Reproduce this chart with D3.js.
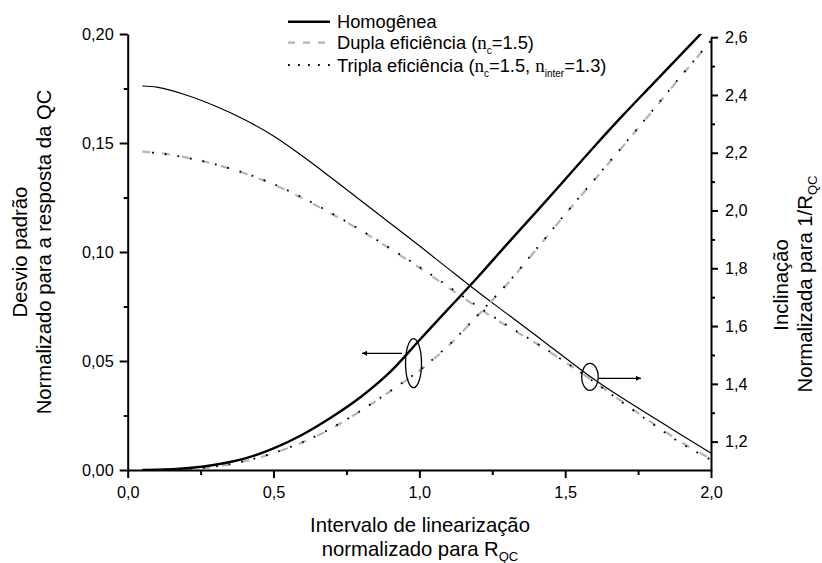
<!DOCTYPE html>
<html>
<head>
<meta charset="utf-8">
<script src="https://cdn.jsdelivr.net/npm/d3@7"></script>
<style>
  html, body { margin: 0; padding: 0; background: #fff; }
  svg { display: block; }
  text { font-family: "Liberation Sans", Arial, sans-serif; fill: #000; }
</style>
</head>
<body>
<svg id="chart" width="822" height="563"></svg>
<script>
// Linearization interval, normalized to R_QC
const xValues = [0.05, 0.1, 0.2, 0.3, 0.4, 0.5, 0.6, 0.7, 0.8, 0.9, 1.0,
                 1.1, 1.2, 1.3, 1.4, 1.5, 1.6, 1.7, 1.8, 1.9, 2.0];

// Standard deviation normalized to the QC response (left axis)
const homogStd  = [0.0000, 0.0001, 0.0008, 0.0024, 0.0052, 0.0099, 0.0163, 0.0243, 0.0336, 0.0450, 0.0595,
                   0.0740, 0.0884, 0.1035, 0.1183, 0.1333, 0.1484, 0.1630, 0.1770, 0.1910, 0.2050];
const duplaStd  = [0.0000, 0.0000, 0.0004, 0.0015, 0.0040, 0.0077, 0.0127, 0.0192, 0.0272, 0.0361, 0.0455,
                   0.0570, 0.0708, 0.0851, 0.1010, 0.1172, 0.1330, 0.1488, 0.1648, 0.1810, 0.1968];
const triplaStd = [0.0000, 0.0000, 0.0004, 0.0016, 0.0041, 0.0078, 0.0128, 0.0193, 0.0273, 0.0362, 0.0457,
                   0.0572, 0.0710, 0.0853, 0.1012, 0.1174, 0.1332, 0.1490, 0.1650, 0.1812, 0.1970];

// Slope normalized to 1/R_QC (right axis)
const homogSlope  = [2.431, 2.427, 2.400, 2.362, 2.315, 2.258, 2.188, 2.112, 2.034, 1.956, 1.878,
                     1.798, 1.719, 1.643, 1.567, 1.490, 1.415, 1.348, 1.285, 1.222, 1.160];
const duplaSlope  = [2.204, 2.200, 2.184, 2.160, 2.129, 2.090, 2.042, 1.988, 1.930, 1.867, 1.802,
                     1.733, 1.664, 1.600, 1.540, 1.475, 1.407, 1.335, 1.264, 1.197, 1.140];
const triplaSlope = [2.203, 2.199, 2.183, 2.160, 2.130, 2.092, 2.044, 1.990, 1.932, 1.869, 1.805,
                     1.737, 1.668, 1.603, 1.542, 1.476, 1.406, 1.333, 1.261, 1.193, 1.137];

// Tick values
const xMajorTicks = [0, 0.5, 1.0, 1.5, 2.0];
const xMinorTicks = [0.25, 0.75, 1.25, 1.75];
const yLeftMajorTicks = [0, 0.05, 0.10, 0.15, 0.20];
const yLeftMinorTicks = [0.025, 0.075, 0.125, 0.175];
const yRightMajorTicks = [1.2, 1.4, 1.6, 1.8, 2.0, 2.2, 2.4, 2.6];
const yRightMinorTicks = [1.3, 1.5, 1.7, 1.9, 2.1, 2.3, 2.5];

const svg = d3.select("#chart");

const plot = { left: 127.7, right: 711, top: 34, bottom: 470 };

const x = d3.scaleLinear().domain([0, 2]).range([plot.left, plot.right]);
const yL = d3.scaleLinear().domain([0, 0.2]).range([plot.bottom, plot.top]);
const yR = d3.scaleLinear().domain([1.1, 2.6]).range([470.5, 37.2]);

const ptFmt = d3.formatLocale({ decimal: ",", thousands: ".", grouping: [3], currency: ["", ""] });
const f2 = ptFmt.format(".2f");
const f1 = ptFmt.format(".1f");

svg.append("defs").append("clipPath").attr("id", "plotClip")
  .append("rect")
  .attr("x", plot.left).attr("y", plot.top)
  .attr("width", plot.right - plot.left).attr("height", plot.bottom - plot.top);

const curves = svg.append("g").attr("clip-path", "url(#plotClip)");

function addLine(values, scale, style) {
  const pts = xValues.map((d, i) => [d, values[i]]);
  const gen = d3.line().x(d => x(d[0])).y(d => scale(d[1])).curve(d3.curveMonotoneX);
  curves.append("path")
    .attr("d", gen(pts))
    .attr("fill", "none")
    .attr("stroke", style.color)
    .attr("stroke-width", style.width)
    .attr("stroke-dasharray", style.dash || null)
    .attr("stroke-dashoffset", style.offset || 0);
}

const styleSolidThick = { color: "#000", width: 2.4 };
const styleSolidThin = { color: "#000", width: 1.2 };
const styleDashed = { color: "#b4b4b4", width: 2.2, dash: "8,12" };
const styleDotted = { color: "#000", width: 1.8, dash: "1.8,11", offset: 3 };

// Slope curves (right axis)
addLine(duplaSlope, yR, styleDashed);
addLine(triplaSlope, yR, styleDotted);
addLine(homogSlope, yR, styleSolidThin);

// Standard deviation curves (left axis)
addLine(duplaStd, yL, styleDashed);
addLine(triplaStd, yL, styleDotted);
addLine(homogStd, yL, styleSolidThick);

// Axes
const tickFont = "16.3px";
function styleAxis(g) {
  g.select(".domain").attr("stroke", "#000").attr("stroke-width", 2);
  g.selectAll(".tick line").attr("stroke", "#000").attr("stroke-width", 2);
  g.selectAll(".tick text").style("font-size", tickFont).attr("fill", "#000")
    .style("font-family", "'Liberation Sans', Arial, sans-serif");
}
function styleMinor(g) {
  g.select(".domain").remove();
  g.selectAll(".tick line").attr("stroke", "#000").attr("stroke-width", 2);
}

// bottom
const gx = svg.append("g").attr("transform", `translate(0,${plot.bottom})`)
  .call(d3.axisBottom(x).tickValues(xMajorTicks).tickFormat(f1).tickSize(8).tickSizeOuter(0).tickPadding(8));
styleAxis(gx);
svg.append("g").attr("transform", `translate(0,${plot.bottom})`)
  .call(d3.axisBottom(x).tickValues(xMinorTicks).tickFormat("").tickSize(5).tickSizeOuter(0))
  .call(styleMinor);

// left
const gyl = svg.append("g").attr("transform", `translate(${plot.left},0)`)
  .call(d3.axisLeft(yL).tickValues(yLeftMajorTicks).tickFormat(f2).tickSize(8).tickSizeOuter(0).tickPadding(6));
styleAxis(gyl);
svg.append("g").attr("transform", `translate(${plot.left},0)`)
  .call(d3.axisLeft(yL).tickValues(yLeftMinorTicks).tickFormat("").tickSize(4).tickSizeOuter(0))
  .call(styleMinor);

// right
const gyr = svg.append("g").attr("transform", `translate(${plot.right},0)`)
  .call(d3.axisRight(yR).tickValues(yRightMajorTicks).tickFormat(f1).tickSize(7).tickSizeOuter(0).tickPadding(7));
styleAxis(gyr);
svg.append("g").attr("transform", `translate(${plot.right},0)`)
  .call(d3.axisRight(yR).tickValues(yRightMinorTicks).tickFormat("").tickSize(4).tickSizeOuter(0))
  .call(styleMinor);

// Axis titles
const titleSize = 20.3;
function rotatedTitle(cx, cy, parts) {
  const t = svg.append("text")
    .attr("transform", `translate(${cx},${cy}) rotate(-90)`)
    .attr("text-anchor", "middle")
    .style("font-size", titleSize + "px");
  parts.forEach(p => {
    const s = t.append("tspan").text(p.text);
    if (p.sub) s.style("font-size", "13px").attr("dy", 5);
  });
  return t;
}

rotatedTitle(27, 252, [{ text: "Desvio padrão" }]);
rotatedTitle(51, 252, [{ text: "Normalizado para a resposta da QC" }]);
rotatedTitle(788, 285, [{ text: "Inclinação" }]);
rotatedTitle(812, 284, [{ text: "Normalizada para 1/R" }, { text: "QC", sub: true }]);

svg.append("text")
  .attr("x", 420).attr("y", 531.5)
  .attr("text-anchor", "middle")
  .style("font-size", titleSize + "px")
  .text("Intervalo de linearização");

const bt = svg.append("text")
  .attr("x", 420).attr("y", 556)
  .attr("text-anchor", "middle")
  .style("font-size", titleSize + "px");
bt.append("tspan").text("normalizado para R");
bt.append("tspan").text("QC").style("font-size", "13px").attr("dy", 5);

// Legend
const legend = svg.append("g");
const legendRows = [
  { y: 21.7, style: { color: "#000", width: 2.4 } },
  { y: 42.7, style: { color: "#b4b4b4", width: 2.2, dash: "7,8" } },
  { y: 65, style: { color: "#000", width: 1.8, dash: "1.8,8.2" } }
];
legendRows.forEach(r => {
  legend.append("line")
    .attr("x1", 288).attr("x2", 330).attr("y1", r.y).attr("y2", r.y)
    .attr("stroke", r.style.color).attr("stroke-width", r.style.width)
    .attr("stroke-dasharray", r.style.dash || null);
});

const legSize = 18.3;
function legendText(y, parts) {
  const t = legend.append("text").attr("x", 337).attr("y", y + 6.7).style("font-size", legSize + "px");
  parts.forEach(p => {
    const s = t.append("tspan").text(p.text);
    if (p.serif) s.style("font-family", "'Liberation Serif', 'Times New Roman', serif").style("font-size", "19px");
    if (p.sub) s.style("font-size", "10px").attr("dy", 5);
    if (p.up) s.attr("dy", -5);
  });
}
legendText(21.7, [{ text: "Homogênea" }]);
legendText(42.7, [{ text: "Dupla eficiência (" }, { text: "n", serif: true }, { text: "c", sub: true },
                  { text: "=1.5)", up: true }]);
legendText(65, [{ text: "Tripla eficiência (" }, { text: "n", serif: true }, { text: "c", sub: true },
                { text: "=1.5, ", up: true }, { text: "n", serif: true }, { text: "inter", sub: true },
                { text: "=1.3)", up: true }]);

// Annotations: ellipses marking each curve family and arrows to its axis
const ann = svg.append("g");
const defs = svg.select("defs");
defs.append("marker").attr("id", "arrowHead")
  .attr("viewBox", "0 0 10 10").attr("refX", 10).attr("refY", 5)
  .attr("markerWidth", 10).attr("markerHeight", 5).attr("markerUnits", "userSpaceOnUse")
  .attr("orient", "auto")
  .append("path").attr("d", "M0,0 L10,5 L0,10 z").attr("fill", "#000");

// Std-dev family -> left axis
ann.append("ellipse").attr("cx", x(0.980)).attr("cy", yL(0.0490))
  .attr("rx", 8).attr("ry", 24.5)
  .attr("fill", "none").attr("stroke", "#000").attr("stroke-width", 1.3);
ann.append("line").attr("x1", 402).attr("y1", 353.3).attr("x2", 362).attr("y2", 353.3)
  .attr("stroke", "#000").attr("stroke-width", 1.3).attr("marker-end", "url(#arrowHead)");

// Slope family -> right axis
ann.append("ellipse").attr("cx", x(1.585)).attr("cy", yR(1.424))
  .attr("rx", 8.3).attr("ry", 13.5)
  .attr("fill", "none").attr("stroke", "#000").attr("stroke-width", 1.3);
ann.append("line").attr("x1", 598.5).attr("y1", 378.3).attr("x2", 641).attr("y2", 378.3)
  .attr("stroke", "#000").attr("stroke-width", 1.3).attr("marker-end", "url(#arrowHead)");
</script>
</body>
</html>
